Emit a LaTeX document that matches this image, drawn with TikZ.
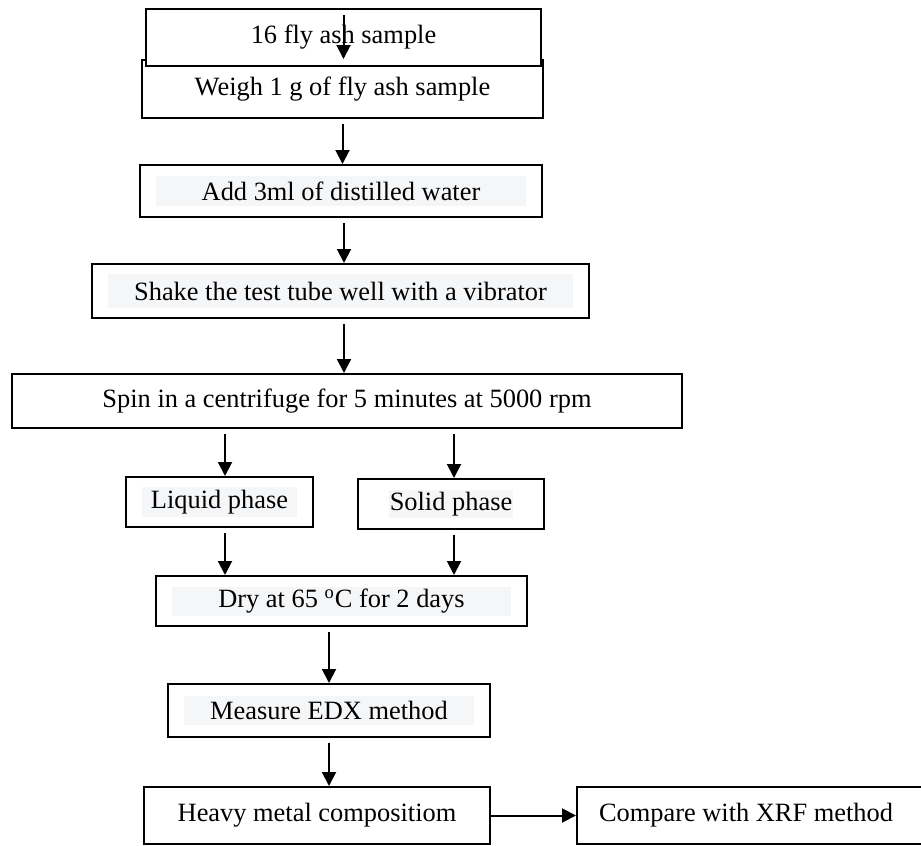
\documentclass[tikz,border=0pt]{standalone}
\usepackage{fontspec}
\setmainfont{Liberation Serif}
\usepackage{xcolor}
\usepackage{tikz}
\usetikzlibrary{arrows.meta, positioning}

\definecolor{hlgray}{HTML}{F5F6F8}

\begin{document}
\begin{tikzpicture}[
    x=0.5pt, y=-0.5pt,
    block/.style={rectangle, draw, line width=1pt, fill=white, inner sep=0pt, align=center,
        font=\fontsize{13.2}{15}\selectfont},
    shaded/.style args={#1/#2}{path picture={
        \fill[hlgray] ([xshift=#1, yshift=#2]path picture bounding box.south west)
            rectangle ([xshift=-#1, yshift=-#2]path picture bounding box.north east);}},
    arrow/.style={line width=1pt, -{Triangle[width=7pt, length=7pt]}, shorten <=2.5pt},
]
    \useasboundingbox (0,0) rectangle (921,846);
    \clip (0,0) rectangle (921,846);

    % Process steps
    \node[block, minimum width=200.5pt, minimum height=29pt] (weigh) at (342.5,89) {Weigh 1 g of fly ash sample};
    \node[block, minimum width=197.5pt, minimum height=28.5pt] (sample) at (343.5,37.5) {16 fly ash sample};
    \node[block, shaded=8pt/5.5pt, minimum width=201pt, minimum height=26pt] (add) at (341,191) {Add 3ml of distilled water};
    \node[block, shaded=8pt/5pt, minimum width=248.5pt, minimum height=27pt] (shake) at (340.5,291) {Shake the test tube well with a vibrator};
    \node[block, minimum width=335pt, minimum height=27pt] (spin) at (347,401) {Spin in a centrifuge for 5 minutes at 5000 rpm};
    \node[block, shaded=8pt/5pt, minimum width=93.5pt, minimum height=25pt] (liquid) at (219.5,502) {Liquid phase};
    \node[block, shaded=15.5pt/5.5pt, minimum width=93pt, minimum height=25pt] (solid) at (451,504) {Solid phase};
    \node[block, shaded=8pt/5.25pt, minimum width=185.5pt, minimum height=25pt] (dry) at (341.5,601) {Dry at 65 \textsuperscript{o}C for 2 days};
    \node[block, shaded=8pt/6pt, minimum width=161pt, minimum height=26.5pt] (measure) at (329,710.5) {Measure EDX method};
    \node[block, minimum width=173pt, minimum height=28.5pt] (heavy) at (317,815.5) {Heavy metal compositiom};
    \node[block, anchor=west, text width=180pt, align=flush left, inner xsep=11pt, minimum height=28.5pt] (compare) at (576,815.5) {Compare with XRF method};

    % Connect everything
    \draw[arrow, shorten <=3.5pt] (sample.north) -- (sample.north |- weigh.north);
    \draw[arrow] (weigh.south) -- (weigh.south |- add.north);
    \draw[arrow] ([xshift=1.5pt]add.south) -- ([xshift=1.5pt]add.south |- shake.north);
    \draw[arrow] ([xshift=1.75pt]shake.south) -- ([xshift=1.75pt]shake.south |- spin.north);
    \draw[arrow] ([xshift=2.75pt]liquid.north |- spin.south) -- ([xshift=2.75pt]liquid.north);
    \draw[arrow] ([xshift=1.5pt]solid.north |- spin.south) -- ([xshift=1.5pt]solid.north);
    \draw[arrow] ([xshift=2.75pt]liquid.south) -- ([xshift=2.75pt]liquid.south |- dry.north);
    \draw[arrow] ([xshift=1.5pt]solid.south) -- ([xshift=1.5pt]solid.south |- dry.north);
    \draw[arrow] (measure.north |- dry.south) -- (measure.north);
    \draw[arrow] (measure.south) -- (measure.south |- heavy.north);
    \draw[arrow, shorten <=0pt] (heavy.east) -- (compare.west);
\end{tikzpicture}
\end{document}
